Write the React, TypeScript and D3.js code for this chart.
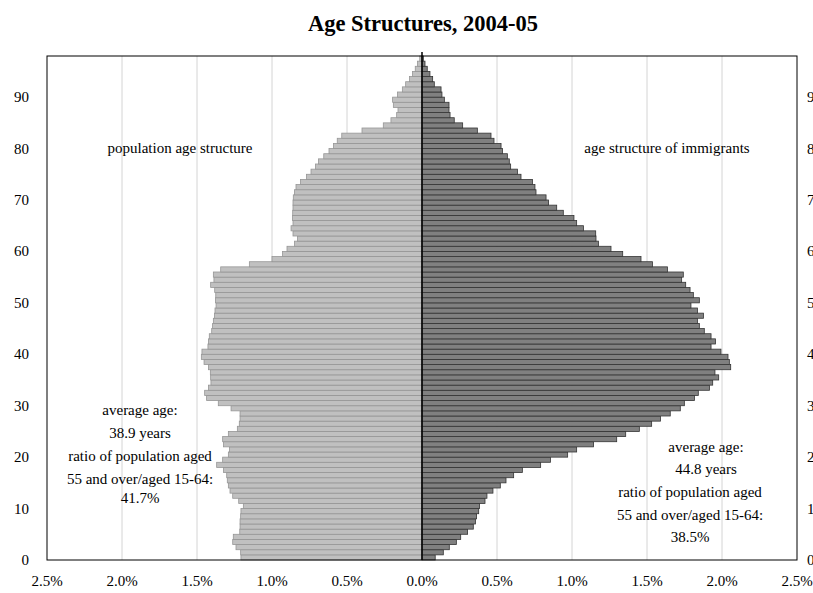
import { scaleLinear } from "d3";

const TITLE = "Age Structures, 2004-05";

// share of each age (0..97) in the whole population, %
const POPULATION = [
  1.207, 1.209, 1.24, 1.262, 1.258, 1.215, 1.213, 1.213, 1.209, 1.207,
  1.191, 1.222, 1.262, 1.28, 1.291, 1.298, 1.302, 1.324, 1.369, 1.329,
  1.291, 1.284, 1.324, 1.329, 1.291, 1.231, 1.218, 1.213, 1.213, 1.273,
  1.358, 1.436, 1.449, 1.424, 1.407, 1.409, 1.411, 1.424, 1.453, 1.471,
  1.467, 1.427, 1.424, 1.418, 1.402, 1.396, 1.391, 1.384, 1.38, 1.373,
  1.377, 1.375, 1.382, 1.409, 1.387, 1.391, 1.342, 1.151, 1.0, 0.93,
  0.9, 0.85, 0.83, 0.86, 0.873, 0.86, 0.864, 0.862, 0.86, 0.86,
  0.858, 0.85, 0.84, 0.81, 0.77, 0.74, 0.71, 0.69, 0.655, 0.62,
  0.59, 0.565, 0.535, 0.4, 0.258, 0.207, 0.169, 0.16, 0.191, 0.196,
  0.164, 0.131, 0.109, 0.084, 0.064, 0.045, 0.03, 0.015,
];

// share of each age (0..97) among immigrants, %
const IMMIGRANTS = [
  0.088, 0.142, 0.182, 0.229, 0.258, 0.304, 0.342, 0.356, 0.364, 0.378,
  0.384, 0.42, 0.433, 0.473, 0.522, 0.56, 0.611, 0.669, 0.791, 0.856,
  0.971, 1.031, 1.144, 1.298, 1.358, 1.449, 1.531, 1.59, 1.655, 1.722,
  1.749, 1.816, 1.842, 1.916, 1.938, 1.978, 1.953, 2.058, 2.049, 2.04,
  1.993, 1.927, 1.956, 1.927, 1.882, 1.849, 1.836, 1.876, 1.836, 1.793,
  1.849, 1.809, 1.787, 1.758, 1.731, 1.742, 1.636, 1.536, 1.46, 1.338,
  1.26, 1.176, 1.16, 1.158, 1.076, 1.031, 1.013, 0.942, 0.898, 0.844,
  0.827, 0.76, 0.753, 0.736, 0.66, 0.636, 0.591, 0.582, 0.569, 0.536,
  0.527, 0.48, 0.46, 0.369, 0.271, 0.215, 0.187, 0.18, 0.18, 0.149,
  0.133, 0.127, 0.082, 0.071, 0.053, 0.035, 0.02, 0.009,
];

const X_TICKS = [-2.5, -2, -1.5, -1, -0.5, 0, 0.5, 1, 1.5, 2, 2.5];
const Y_TICKS = [0, 10, 20, 30, 40, 50, 60, 70, 80, 90];

const LEFT_LABEL = "population age structure";
const RIGHT_LABEL = "age structure of immigrants";
const LEFT_NOTE = [
  "average age:",
  "38.9 years",
  "ratio of population aged",
  "55 and over/aged 15-64:",
  "41.7%",
];
const RIGHT_NOTE = [
  "average age:",
  "44.8 years",
  "ratio of population aged",
  "55 and over/aged 15-64:",
  "38.5%",
];

const FONT = "'Liberation Serif', 'Times New Roman', serif";

const x = scaleLinear().domain([-2.5, 2.5]).range([47, 797]);
const y = scaleLinear().domain([0, 98]).range([560, 56]);

export default function App() {
  const x0 = x(0);
  return (
    <svg
      width={813}
      height={593}
      style={{ position: "absolute", left: 0, top: 0, background: "#fff" }}
      fontFamily={FONT}
    >
      <text x={423} y={31} textAnchor="middle" fontSize={22.5} fontWeight="bold">
        {TITLE}
      </text>

      {/* grid */}
      {X_TICKS.filter((t) => Math.abs(t) > 0 && Math.abs(t) < 2.5).map((t) => (
        <line
          key={t}
          x1={x(t)}
          x2={x(t)}
          y1={y(98)}
          y2={y(0)}
          stroke="#d4d4d4"
          strokeWidth={1}
        />
      ))}

      {/* population, to the left */}
      {POPULATION.map((v, i) => (
        <rect
          key={"p" + i}
          x={x(-v)}
          y={y(i + 1)}
          width={x0 - x(-v)}
          height={y(i) - y(i + 1)}
          fill="#c0c0c0"
          stroke="#969696"
          strokeWidth={0.8}
        />
      ))}

      {/* immigrants, to the right */}
      {IMMIGRANTS.map((v, i) => (
        <rect
          key={"i" + i}
          x={x0}
          y={y(i + 1)}
          width={x(v) - x0}
          height={y(i) - y(i + 1)}
          fill="#808080"
          stroke="#333"
          strokeWidth={0.8}
        />
      ))}

      {/* frame */}
      <rect
        x={x(-2.5)}
        y={y(98)}
        width={x(2.5) - x(-2.5)}
        height={y(0) - y(98)}
        fill="none"
        stroke="#000"
        strokeWidth={1}
      />
      <line x1={x0} x2={x0} y1={y(98) - 4} y2={y(0)} stroke="#000" strokeWidth={1.5} />

      {/* x axis labels */}
      {X_TICKS.map((t) => (
        <text key={"xt" + t} x={x(t)} y={586} textAnchor="middle" fontSize={15}>
          {Math.abs(t).toFixed(1) + "%"}
        </text>
      ))}

      {/* y axis labels, both sides */}
      {Y_TICKS.map((t) => (
        <g key={"yt" + t}>
          <text x={29} y={y(t) + 5} textAnchor="end" fontSize={15}>
            {t}
          </text>
          <text x={807} y={y(t) + 5} textAnchor="start" fontSize={15}>
            {t}
          </text>
        </g>
      ))}

      <text x={180} y={153} textAnchor="middle" fontSize={15}>
        {LEFT_LABEL}
      </text>
      <text x={667} y={153} textAnchor="middle" fontSize={15}>
        {RIGHT_LABEL}
      </text>

      {LEFT_NOTE.map((s, i) => (
        <text
          key={"ln" + i}
          x={140}
          y={[415, 438, 461, 484, 503][i]}
          textAnchor="middle"
          fontSize={15}
        >
          {s}
        </text>
      ))}
      {RIGHT_NOTE.map((s, i) => (
        <text
          key={"rn" + i}
          x={i < 2 ? 706 : 690}
          y={[452, 474, 497, 520, 542][i]}
          textAnchor="middle"
          fontSize={15}
        >
          {s}
        </text>
      ))}
    </svg>
  );
}
